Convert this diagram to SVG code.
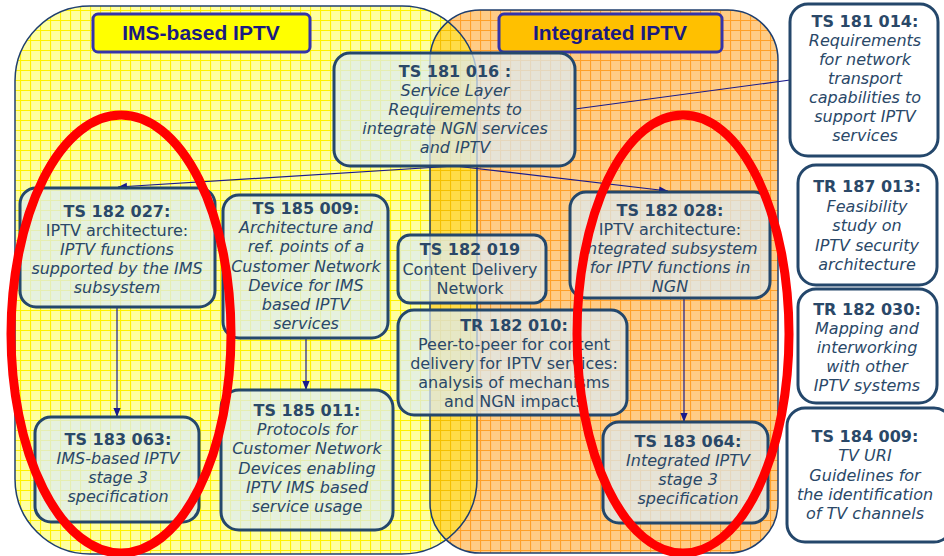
<svg xmlns="http://www.w3.org/2000/svg" width="944" height="556" viewBox="0 0 944 556">
<style>
.node rect{fill:#DCEBF5;fill-opacity:0.72;stroke:#24476B;stroke-width:3}
.wnode rect{fill:#FFFFFF;stroke:#24476B;stroke-width:3}
text{font-family:"DejaVu Sans","Verdana",sans-serif;font-size:16px;fill:#2A4868;text-anchor:middle}
.b{font-weight:bold}
.i{font-style:italic}
.hdr{font-family:"Liberation Sans",Arial,sans-serif;font-size:21px;font-weight:bold;fill:#1A1A80}
.con{stroke:#1A1A8C;stroke-width:1.2;fill:none}
.red{fill:none;stroke:#FF0000;stroke-width:9}
</style>
<defs>
<pattern id="gy" width="10" height="10" patternUnits="userSpaceOnUse">
<rect width="10" height="10" fill="#FFFFA0"/>
<path d="M0 0.5H10M0.5 0V10" stroke="#FFF200" stroke-width="1.2"/>
</pattern>
<pattern id="go" width="10" height="10" patternUnits="userSpaceOnUse">
<rect width="10" height="10" fill="#FFCC86"/>
<path d="M0 0.5H10M0.5 0V10" stroke="#FFA028" stroke-width="1.2"/>
</pattern>
<pattern id="gov" width="10" height="10" patternUnits="userSpaceOnUse">
<rect width="10" height="10" fill="#FFDC48"/>
<path d="M0 0.5H10M0.5 0V10" stroke="#F5C000" stroke-width="1.2"/>
</pattern>
<clipPath id="cy"><rect x="15" y="6" width="462" height="548" rx="75" ry="75"/></clipPath>
<marker id="ah" viewBox="0 0 10 10" refX="10" refY="5" markerWidth="9" markerHeight="9" orient="auto" markerUnits="userSpaceOnUse">
<path d="M0 1L10 5L0 9Z" fill="#1A1A8C"/>
</marker>
</defs>
<rect width="944" height="556" fill="#FFFFFF"/>
<g id="regions">
<rect x="15" y="6" width="462" height="548" rx="75" ry="75" fill="url(#gy)"/>
<rect x="430" y="10" width="348" height="543" rx="50" ry="50" fill="url(#go)"/>
<g clip-path="url(#cy)"><rect x="430" y="10" width="348" height="543" rx="50" ry="50" fill="url(#gov)"/></g>
<rect x="15" y="6" width="462" height="548" rx="75" ry="75" fill="none" stroke="#1F3F6F" stroke-width="1.5"/>
<rect x="430" y="10" width="348" height="543" rx="50" ry="50" fill="none" stroke="#1F3F6F" stroke-width="1.5"/>
</g>
<g id="hdr-ims"><rect x="93" y="14" width="217" height="38" rx="5" fill="#FFFF00" stroke="#3333AA" stroke-width="3"/><text class="hdr" x="201" y="40">IMS-based IPTV</text></g>
<g id="hdr-int"><rect x="499" y="14" width="223" height="38" rx="5" fill="#FFC000" stroke="#3333AA" stroke-width="3"/><text class="hdr" x="610" y="40">Integrated IPTV</text></g>
<g id="connectors">
<path class="con" d="M455 166L118 187" marker-end="url(#ah)"/>
<path class="con" d="M455 166L668 191" marker-end="url(#ah)"/>
<path class="con" d="M575 109L790 80"/>
<path class="con" d="M117 307V417" marker-end="url(#ah)"/>
<path class="con" d="M306 338V390" marker-end="url(#ah)"/>
<path class="con" d="M684 298V422" marker-end="url(#ah)"/>
</g>
<g id="ts181016" class="node"><rect x="334" y="53" width="241" height="113" rx="16"/>
<text x="455" y="77"><tspan class="b">TS 181 016 :</tspan><tspan class="i" x="455" dy="19">Service Layer</tspan><tspan class="i" x="455" dy="19">Requirements to</tspan><tspan class="i" x="455" dy="19">integrate NGN services</tspan><tspan class="i" x="455" dy="19">and IPTV</tspan></text></g>
<g id="ts181014" class="wnode"><rect x="790" y="4" width="148" height="152" rx="18"/>
<text x="865" y="27"><tspan class="b">TS 181 014:</tspan><tspan class="i" x="865" dy="19">Requirements</tspan><tspan class="i" x="865" dy="19">for network</tspan><tspan class="i" x="865" dy="19">transport</tspan><tspan class="i" x="865" dy="19">capabilities to</tspan><tspan class="i" x="865" dy="19">support IPTV</tspan><tspan class="i" x="865" dy="19">services</tspan></text></g>
<g id="tr187013" class="wnode"><rect x="798" y="165" width="139" height="120" rx="18"/>
<text x="867" y="192"><tspan class="b">TR 187 013:</tspan><tspan class="i" x="867" dy="19.5">Feasibility</tspan><tspan class="i" x="867" dy="19.5">study on</tspan><tspan class="i" x="867" dy="19.5">IPTV security</tspan><tspan class="i" x="867" dy="19.5">architecture</tspan></text></g>
<g id="tr182030" class="wnode"><rect x="798" y="289" width="139" height="114" rx="18"/>
<text x="867" y="315"><tspan class="b">TR 182 030:</tspan><tspan class="i" x="867" dy="19">Mapping and</tspan><tspan class="i" x="867" dy="19">interworking</tspan><tspan class="i" x="867" dy="19">with other</tspan><tspan class="i" x="867" dy="19">IPTV systems</tspan></text></g>
<g id="ts184009" class="wnode"><rect x="787" y="408" width="165" height="134" rx="18"/>
<text x="865" y="442"><tspan class="b">TS 184 009:</tspan><tspan class="i" x="865" dy="19.3">TV URI</tspan><tspan class="i" x="865" dy="19.3">Guidelines for</tspan><tspan class="i" x="865" dy="19.3">the identification</tspan><tspan class="i" x="865" dy="19.3">of TV channels</tspan></text></g>
<g id="ts182027" class="node"><rect x="20" y="188" width="195" height="119" rx="16"/>
<text x="117" y="217"><tspan class="b">TS 182 027:</tspan><tspan x="117" dy="19">IPTV architecture:</tspan><tspan class="i" x="117" dy="19">IPTV functions</tspan><tspan class="i" x="117" dy="19">supported by the IMS</tspan><tspan class="i" x="117" dy="19">subsystem</tspan></text></g>
<g id="ts185009" class="node"><rect x="223" y="195" width="165" height="143" rx="16"/>
<text x="306" y="214"><tspan class="b">TS 185 009:</tspan><tspan class="i" x="306" dy="19.2">Architecture and</tspan><tspan class="i" x="306" dy="19.2">ref. points of a</tspan><tspan class="i" x="306" dy="19.2">Customer Network</tspan><tspan class="i" x="306" dy="19.2">Device for IMS</tspan><tspan class="i" x="306" dy="19.2">based IPTV</tspan><tspan class="i" x="306" dy="19.2">services</tspan></text></g>
<g id="ts182019" class="node"><rect x="398" y="235" width="148" height="68" rx="12"/>
<text x="470" y="255"><tspan class="b">TS 182 019</tspan><tspan x="470" dy="19.5">Content Delivery</tspan><tspan x="470" dy="19.5">Network</tspan></text></g>
<g id="tr182010" class="node"><rect x="398" y="310" width="229" height="105" rx="16"/>
<text x="514" y="331"><tspan class="b">TR 182 010:</tspan><tspan x="514" dy="19">Peer-to-peer for content</tspan><tspan x="514" dy="19">delivery for IPTV services:</tspan><tspan x="514" dy="19">analysis of mechanisms</tspan><tspan x="514" dy="19">and NGN impacts</tspan></text></g>
<g id="ts182028" class="node"><rect x="570" y="192" width="200" height="106" rx="16"/>
<text x="670" y="216"><tspan class="b">TS 182 028:</tspan><tspan x="670" dy="19">IPTV architecture:</tspan><tspan class="i" x="670" dy="19">Integrated subsystem</tspan><tspan class="i" x="670" dy="19">for IPTV functions in</tspan><tspan class="i" x="670" dy="19">NGN</tspan></text></g>
<g id="ts183063" class="node"><rect x="35" y="417" width="164" height="105" rx="16"/>
<text x="118" y="445"><tspan class="b">TS 183 063:</tspan><tspan class="i" x="118" dy="19">IMS-based IPTV</tspan><tspan class="i" x="118" dy="19">stage 3</tspan><tspan class="i" x="118" dy="19">specification</tspan></text></g>
<g id="ts185011" class="node"><rect x="221" y="390" width="172" height="140" rx="18"/>
<text x="307" y="416"><tspan class="b">TS 185 011:</tspan><tspan class="i" x="307" dy="19.2">Protocols for</tspan><tspan class="i" x="307" dy="19.2">Customer Network</tspan><tspan class="i" x="307" dy="19.2">Devices enabling</tspan><tspan class="i" x="307" dy="19.2">IPTV IMS based</tspan><tspan class="i" x="307" dy="19.2">service usage</tspan></text></g>
<g id="ts183064" class="node"><rect x="603" y="422" width="165" height="101" rx="16"/>
<text x="688" y="447"><tspan class="b">TS 183 064:</tspan><tspan class="i" x="688" dy="19">Integrated IPTV</tspan><tspan class="i" x="688" dy="19">stage 3</tspan><tspan class="i" x="688" dy="19">specification</tspan></text></g>
<g id="highlights">
<ellipse class="red" cx="121" cy="334" rx="110" ry="219"/>
<ellipse class="red" cx="683" cy="334" rx="106" ry="219"/>
</g>
</svg>
